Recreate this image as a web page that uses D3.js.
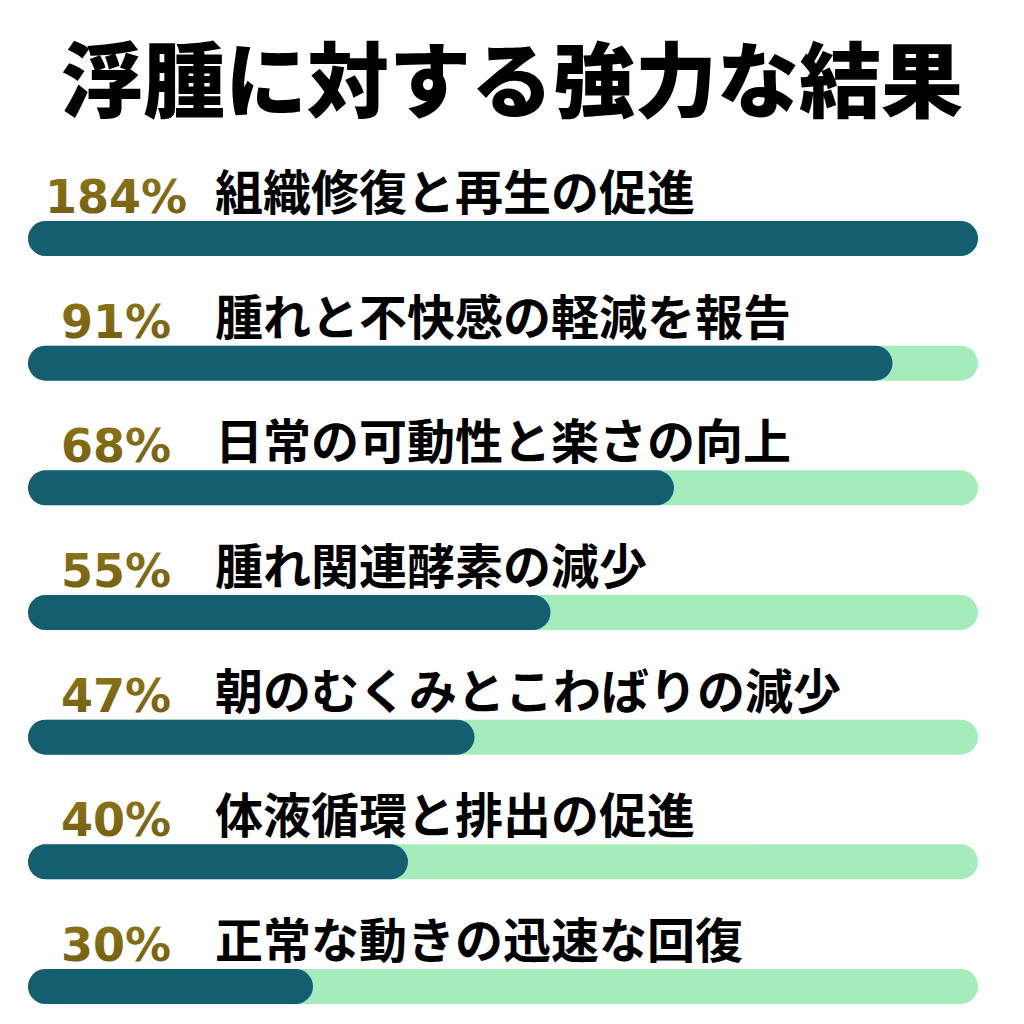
<!DOCTYPE html>
<html><head><meta charset="utf-8">
<script src="https://cdn.jsdelivr.net/npm/d3@7"></script>
<style>html,body{margin:0;padding:0;background:#fff;}</style>
</head><body>
<svg id="chart" width="1024" height="1024"></svg>
<script>
const title = "浮腫に対する強力な結果";
const categories = [
  "組織修復と再生の促進",
  "腫れと不快感の軽減を報告",
  "日常の可動性と楽さの向上",
  "腫れ関連酵素の減少",
  "朝のむくみとこわばりの減少",
  "体液循環と排出の促進",
  "正常な動きの迅速な回復"
];
const values = [184, 91, 68, 55, 47, 40, 30];
const valueLabels = ["184%", "91%", "68%", "55%", "47%", "40%", "30%"];

const W = 1024, H = 1024;
const svg = d3.select("#chart");
svg.append("rect").attr("width", W).attr("height", H).attr("fill", "#fff");

const defs = svg.append("defs");
const g = defs.append("linearGradient").attr("id","gold").attr("x1","0").attr("y1","0").attr("x2","0").attr("y2","1");
g.append("stop").attr("offset","0").attr("stop-color","#8d7719");
g.append("stop").attr("offset","1").attr("stop-color","#6f5c0f");

svg.append("text")
  .attr("x", 512).attr("y", 111)
  .attr("text-anchor", "middle")
  .attr("font-family", "'Noto Sans CJK JP', sans-serif")
  .attr("font-weight", 900)
  .attr("font-size", 82)
  .attr("fill", "#000")
  .text(title);

const barH = 35;
const x = d3.scaleLinear().domain([0, 100]).range([28, 978]).clamp(true);
const y = d3.scalePoint().domain(d3.range(categories.length)).range([221, 969]);

const rows = svg.selectAll("g.row").data(categories).join("g").attr("class","row");

rows.append("rect")
  .attr("x", x(0)).attr("y", (d,i) => y(i))
  .attr("width", x(100) - x(0)).attr("height", barH)
  .attr("rx", barH/2)
  .attr("fill", "#a6ecbb");

rows.append("rect")
  .attr("x", x(0)).attr("y", (d,i) => y(i))
  .attr("width", (d,i) => x(values[i]) - x(0)).attr("height", barH)
  .attr("rx", barH/2)
  .attr("fill", "#135f6f");

rows.append("text")
  .attr("x", 116).attr("y", (d,i) => y(i) - 8)
  .attr("text-anchor", "middle")
  .attr("font-family", "'DejaVu Sans', sans-serif")
  .attr("font-weight", 700)
  .attr("font-size", 46)
  .attr("fill", "url(#gold)")
  .text((d,i) => valueLabels[i]);

rows.append("text")
  .attr("x", 215).attr("y", (d,i) => y(i) - 11)
  .attr("font-family", "'Noto Sans CJK JP', sans-serif")
  .attr("font-weight", 700)
  .attr("font-size", 48)
  .attr("fill", "#000")
  .text(d => d);
</script>
</body></html>
